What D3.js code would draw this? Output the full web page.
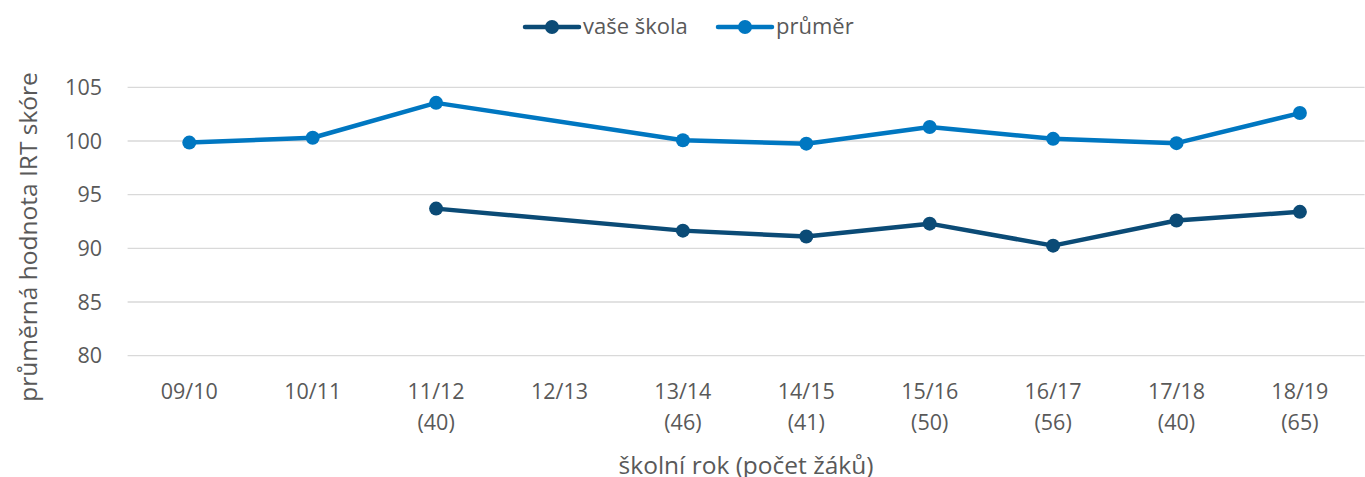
<!DOCTYPE html>
<html>
<head>
<meta charset="utf-8">
<script src="https://cdn.jsdelivr.net/npm/d3@7"></script>
<style>
  body { margin: 0; background: #fff; }
  svg { font-family: "Open Sans", "Noto Sans", sans-serif; }
</style>
</head>
<body>
<svg id="chart" width="1365" height="477"></svg>
<script>
// school years and pupil counts
const years = ["09/10", "10/11", "11/12", "12/13", "13/14", "14/15", "15/16", "16/17", "17/18", "18/19"];
const pupils = [null, null, 40, null, 46, 41, 50, 56, 40, 65];

// mean IRT score
const school = [null, null, 93.7, null, 91.65, 91.1, 92.3, 90.25, 92.6, 93.4];
const average = [99.85, 100.3, 103.55, null, 100.07, 99.75, 101.3, 100.2, 99.8, 102.6];

const yTicks = [80, 85, 90, 95, 100, 105];

const series = [
  { name: "vaše škola", values: school, color: "#0B4B76" },
  { name: "průměr", values: average, color: "#0077C1" }
];

const svg = d3.select('#chart');
const textColor = "#595959";

const x = d3.scaleBand()
    .domain(years)
    .range([127.6, 1361.6]);

const y = d3.scaleLinear()
    .domain([80, 105])
    .range([355.7, 87.3]);

// gridlines
svg.append("g")
   .selectAll("line")
   .data(yTicks)
   .join("line")
   .attr("x1", x.range()[0])
   .attr("x2", x.range()[1] + 3)
   .attr("y1", d => y(d))
   .attr("y2", d => y(d))
   .attr("stroke", "#d9d9d9")
   .attr("stroke-width", 1.3);

// y tick labels
svg.append("g")
   .selectAll("text")
   .data(yTicks)
   .join("text")
   .attr("x", 102)
   .attr("y", d => y(d))
   .attr("dy", "0.36em")
   .attr("text-anchor", "end")
   .attr("fill", textColor)
   .style("font-size", "21.5px")
   .text(d => d);

// x tick labels
const xl = svg.append("g")
   .selectAll("text")
   .data(years)
   .join("text")
   .attr("x", d => x(d) + x.bandwidth() / 2)
   .attr("y", 399)
   .attr("text-anchor", "middle")
   .attr("fill", textColor)
   .style("font-size", "21.5px");

xl.append("tspan").text(d => d);
xl.append("tspan")
  .attr("x", d => x(d) + x.bandwidth() / 2)
  .attr("dy", 31)
  .text((d, i) => pupils[i] == null ? "" : "(" + pupils[i] + ")");

// axis titles
svg.append("text")
   .attr("x", 746)
   .attr("y", 474)
   .attr("text-anchor", "middle")
   .attr("fill", textColor)
   .style("font-size", "24.5px")
   .text("školní rok (počet žáků)");

svg.append("text")
   .attr("transform", "translate(37, 237) rotate(-90)")
   .attr("text-anchor", "middle")
   .attr("fill", textColor)
   .style("font-size", "24.5px")
   .text("průměrná hodnota IRT skóre");

// lines and markers
const line = d3.line()
    .x(d => x(d.year) + x.bandwidth() / 2)
    .y(d => y(d.value));

series.forEach(s => {
  const pts = years.map((yr, i) => ({ year: yr, value: s.values[i] }))
                   .filter(d => d.value != null);

  svg.append("path")
     .datum(pts)
     .attr("d", line)
     .attr("fill", "none")
     .attr("stroke", s.color)
     .attr("stroke-width", 4.5)
     .attr("stroke-linejoin", "round");

  svg.append("g")
     .selectAll("circle")
     .data(pts)
     .join("circle")
     .attr("cx", d => x(d.year) + x.bandwidth() / 2)
     .attr("cy", d => y(d.value))
     .attr("r", 7)
     .attr("fill", s.color);
});

// legend
const legendX = [524, 717];
const legend = svg.append("g")
   .selectAll("g")
   .data(series)
   .join("g")
   .attr("transform", (d, i) => `translate(${legendX[i]}, 27)`);

legend.append("line")
   .attr("x1", 1).attr("x2", 55)
   .attr("stroke", d => d.color)
   .attr("stroke-width", 4.5)
   .attr("stroke-linecap", "round");

legend.append("circle")
   .attr("cx", 28)
   .attr("r", 7)
   .attr("fill", d => d.color);

legend.append("text")
   .attr("x", 59)
   .attr("dy", "0.33em")
   .attr("fill", textColor)
   .style("font-size", "22px")
   .text(d => d.name);
</script>
</body>
</html>
